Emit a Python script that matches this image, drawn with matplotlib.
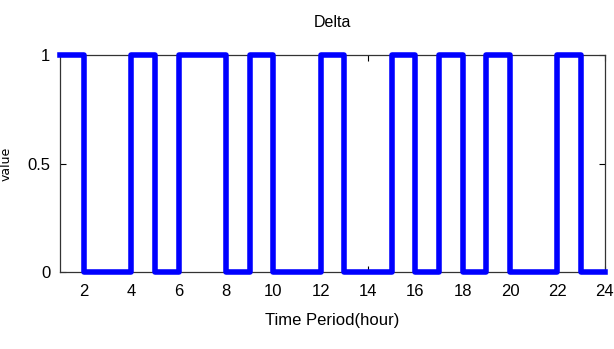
import matplotlib
matplotlib.use('Agg')
import matplotlib.pyplot as plt
import numpy as np
from matplotlib import font_manager

# hourly on/off state, hour 1 .. 23 (each held until the next hour)
hours = list(range(1, 24))
delta = [1, 0, 0, 1, 0, 1, 1, 0, 1, 0, 0, 1, 0, 0, 1, 0, 1, 0, 1, 0, 0, 1, 0]
xticks = list(range(2, 25, 2))
yticks = [0, 0.5, 1]
yticklabels = ['0', '0.5', '1']

names = {f.name for f in font_manager.fontManager.ttflist}
narrow = 'Liberation Sans Narrow' if 'Liberation Sans Narrow' in names else 'Liberation Sans'

fig = plt.figure(figsize=(6.14, 3.49), dpi=100)
ax = fig.add_axes([0.098, 0.221, 0.887, 0.621])

# hold last value through the end of hour 24
x = hours + [24]
y = delta + [delta[-1]]
ax.step(x, y, where='post', color='#0000ff', linewidth=4.0, clip_on=False, zorder=3)

ax.set_xlim(1, 24)
ax.set_ylim(0, 1)
ax.set_xticks(xticks)
ax.set_yticks(yticks)
ax.set_yticklabels(yticklabels)
ax.tick_params(direction='in', top=True, right=True, length=4, width=0.8,
               labelsize=12, pad=9)
ax.tick_params(axis='y', pad=7)
for lab in ax.get_xticklabels() + ax.get_yticklabels():
    lab.set_fontfamily(narrow)
for s in ax.spines.values():
    s.set_linewidth(0.9)
    s.set_color('#333333')

ax.set_title('Delta', fontfamily=narrow, fontsize=11.5, pad=20)
ax.set_xlabel('Time Period(hour)', fontfamily=narrow, fontsize=12, labelpad=10)
ax.set_ylabel('value', fontfamily='DejaVu Sans', fontsize=9)
ax.yaxis.set_label_coords(-0.088, 0.5)

fig.savefig('out.png', dpi=100)
